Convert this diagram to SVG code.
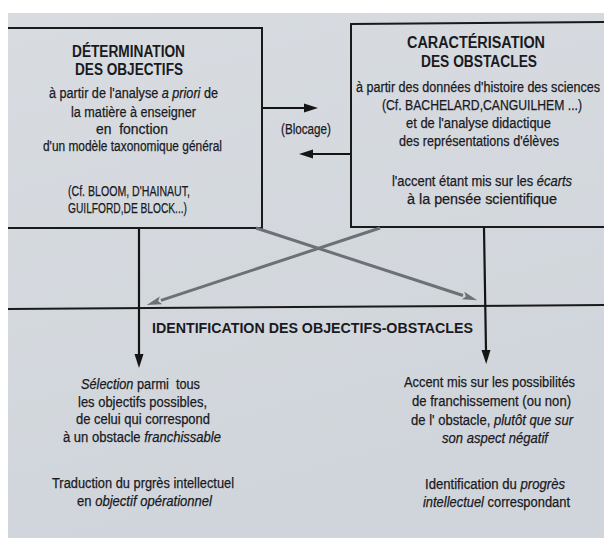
<svg xmlns="http://www.w3.org/2000/svg" width="604" height="538" viewBox="0 0 604 538">
  <defs>
    <linearGradient id="bg" x1="0" y1="0" x2="0.3" y2="1">
      <stop offset="0" stop-color="#d8dce1"/>
      <stop offset="1" stop-color="#d0d5db"/>
    </linearGradient>
    <marker id="ah" markerUnits="userSpaceOnUse" markerWidth="14" markerHeight="10" refX="0" refY="5" orient="auto">
      <path d="M0,0.5 L14,5 L0,9.5 z" fill="#151515"/>
    </marker>
    <marker id="ahg" markerUnits="userSpaceOnUse" markerWidth="15" markerHeight="9" refX="0" refY="4.5" orient="auto">
      <path d="M0,0.5 L15,4.5 L0,8.5 L3,4.5 z" fill="#6c7077"/>
    </marker>
  </defs>
  <style>
    text { font-family: "Liberation Sans", Arial, sans-serif; fill: #1a1a1e; stroke: #1a1a1e; stroke-width: 0.25; }
    .b { font-size: 16px; font-weight: bold; stroke-width: 0; }
    .m { font-size: 14px; font-weight: bold; stroke-width: 0; }
    .t { font-size: 14px; }
    .i { font-style: italic; }
    .pre { white-space: pre; }
    .edge { fill: none; stroke: #1a1a1a; stroke-width: 2; }
    .blk { fill: none; stroke: #141414; stroke-width: 2.2; }
    .gry { fill: none; stroke: #6c7077; stroke-width: 3; }
  </style>

  <rect x="0" y="0" width="604" height="538" fill="#ffffff"/>
  <rect x="8" y="13" width="596" height="525" fill="url(#bg)"/>

  <g id="node-determination">
    <polyline class="edge" points="8,28 262,28 262,228 8,228"/>
    <text class="b" x="72" y="57" textLength="113" lengthAdjust="spacingAndGlyphs">DÉTERMINATION</text>
    <text class="b" x="75" y="75" textLength="108" lengthAdjust="spacingAndGlyphs">DES OBJECTIFS</text>
    <text class="t" x="49" y="98" textLength="169" lengthAdjust="spacingAndGlyphs">à partir de l'analyse <tspan class="i">a priori</tspan> de</text>
    <text class="t" x="71" y="117" textLength="125" lengthAdjust="spacingAndGlyphs">la matière à enseigner</text>
    <text class="t pre" x="96" y="134" textLength="72" lengthAdjust="spacingAndGlyphs">en  fonction</text>
    <text class="t" x="43" y="151" textLength="179" lengthAdjust="spacingAndGlyphs">d'un modèle taxonomique général</text>
    <text class="t" x="68" y="196" textLength="122" lengthAdjust="spacingAndGlyphs">(Cf. BLOOM, D'HAINAUT,</text>
    <text class="t" x="68" y="213" textLength="119" lengthAdjust="spacingAndGlyphs">GUILFORD,DE BLOCK...)</text>
  </g>

  <g id="node-caracterisation">
    <polyline class="edge" points="604,22 351,24 351,227 604,227"/>
    <text class="b" x="407" y="48" textLength="138" lengthAdjust="spacingAndGlyphs">CARACTÉRISATION</text>
    <text class="b" x="421" y="67" textLength="116" lengthAdjust="spacingAndGlyphs">DES OBSTACLES</text>
    <text class="t" x="356" y="92" textLength="244" lengthAdjust="spacingAndGlyphs">à partir des données d'histoire des sciences</text>
    <text class="t" x="382" y="110" textLength="200" lengthAdjust="spacingAndGlyphs">(Cf. BACHELARD,CANGUILHEM ...)</text>
    <text class="t" x="406" y="128" textLength="145" lengthAdjust="spacingAndGlyphs">et de l'analyse didactique</text>
    <text class="t" x="399" y="146" textLength="160" lengthAdjust="spacingAndGlyphs">des représentations d'élèves</text>
    <text class="t" x="392" y="186" textLength="180" lengthAdjust="spacingAndGlyphs">l'accent étant mis sur les <tspan class="i">écarts</tspan></text>
    <text class="t" x="407" y="204" textLength="150" lengthAdjust="spacingAndGlyphs">à la pensée scientifique</text>
  </g>

  <g id="node-identification">
    <line class="edge" x1="8" y1="309" x2="604" y2="305" stroke-width="1.6"/>
    <text class="m" x="152" y="333" textLength="321" lengthAdjust="spacingAndGlyphs">IDENTIFICATION DES OBJECTIFS-OBSTACLES</text>
  </g>

  <g id="node-selection">
    <text class="t pre" x="81" y="389" textLength="119" lengthAdjust="spacingAndGlyphs"><tspan class="i">Sélection</tspan> parmi  tous</text>
    <text class="t" x="78" y="407" textLength="129" lengthAdjust="spacingAndGlyphs">les objectifs possibles,</text>
    <text class="t" x="76" y="424" textLength="134" lengthAdjust="spacingAndGlyphs">de celui qui correspond</text>
    <text class="t" x="63" y="442" textLength="158" lengthAdjust="spacingAndGlyphs">à un obstacle <tspan class="i">franchissable</tspan></text>
    <text class="t" x="52" y="488" textLength="182" lengthAdjust="spacingAndGlyphs">Traduction du prgrès intellectuel</text>
    <text class="t" x="77" y="506" textLength="135" lengthAdjust="spacingAndGlyphs">en <tspan class="i">objectif opérationnel</tspan></text>
  </g>

  <g id="node-accent">
    <text class="t" x="404" y="387" textLength="171" lengthAdjust="spacingAndGlyphs">Accent mis sur les possibilités</text>
    <text class="t" x="412" y="406" textLength="159" lengthAdjust="spacingAndGlyphs">de franchissement (ou non)</text>
    <text class="t" x="411" y="425" textLength="162" lengthAdjust="spacingAndGlyphs">de l' obstacle, <tspan class="i">plutôt que sur</tspan></text>
    <text class="t i" x="442" y="443" textLength="106" lengthAdjust="spacingAndGlyphs">son aspect négatif</text>
    <text class="t" x="425" y="489" textLength="140" lengthAdjust="spacingAndGlyphs">Identification du <tspan class="i">progrès</tspan></text>
    <text class="t" x="423" y="507" textLength="147" lengthAdjust="spacingAndGlyphs"><tspan class="i">intellectuel</tspan> correspondant</text>
  </g>

  <g id="connectors">
    <line class="blk" x1="263" y1="108" x2="304" y2="108" marker-end="url(#ah)"/>
    <line class="blk" x1="350" y1="154" x2="313" y2="154" marker-end="url(#ah)"/>
    <text class="t" x="281" y="134" textLength="50" lengthAdjust="spacingAndGlyphs" font-size="13">(Blocage)</text>
    <line class="blk" x1="139" y1="229" x2="139" y2="354" marker-end="url(#ah)"/>
    <line class="blk" x1="484" y1="228" x2="486" y2="350" marker-end="url(#ah)"/>
    <line class="gry" x1="380" y1="228" x2="161" y2="300.4" marker-end="url(#ahg)"/>
    <line class="gry" x1="256" y1="228" x2="463" y2="295.5" marker-end="url(#ahg)"/>
  </g>
</svg>
